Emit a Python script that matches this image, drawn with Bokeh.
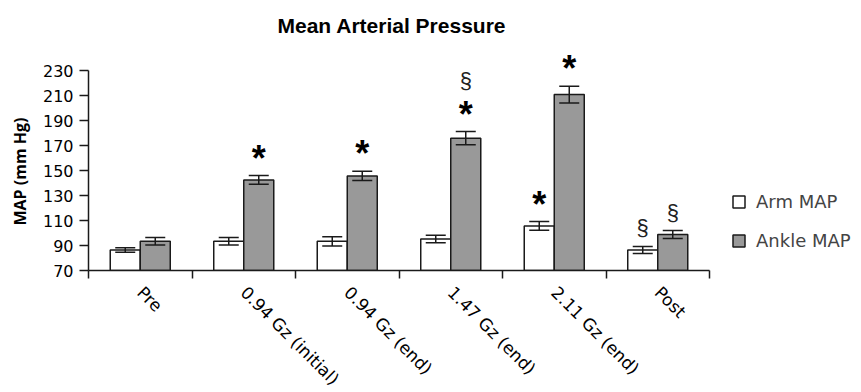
import math
import numpy as np
from bokeh.plotting import figure
from bokeh.models import (ColumnDataSource, Range1d, FixedTicker, Whisker, TeeHead,
                          Legend, LegendItem, Title)
from bokeh.core.properties import value
from bokeh.embed import file_html
from bokeh.resources import INLINE

# ---- data ----
categories = ["Pre", "0.94 Gz (initial)", "0.94 Gz (end)", "1.47 Gz (end)", "2.11 Gz (end)", "Post"]
arm_map = [86.5, 93.4, 93.4, 95.3, 105.7, 86.5]
arm_err = [1.8, 3.0, 3.7, 3.0, 3.5, 2.8]
ankle_map = [93.4, 142.5, 145.7, 175.9, 210.8, 98.8]
ankle_err = [3.0, 3.5, 3.7, 5.3, 6.7, 3.2]
arm_star = [False, False, False, False, True, False]
arm_sect = [False, False, False, False, False, True]
ankle_star = [False, True, True, True, True, False]
ankle_sect = [False, False, False, True, False, True]
y_ticks = [70, 90, 110, 130, 150, 170, 190, 210, 230]

n = len(categories)
centers = np.arange(n) + 0.5
off = 0.145
bw = 0.29

arm_src = ColumnDataSource(dict(x=centers - off, top=arm_map,
                                upper=[v + e for v, e in zip(arm_map, arm_err)],
                                lower=[v - e for v, e in zip(arm_map, arm_err)]))
ank_src = ColumnDataSource(dict(x=centers + off, top=ankle_map,
                                upper=[v + e for v, e in zip(ankle_map, ankle_err)],
                                lower=[v - e for v, e in zip(ankle_map, ankle_err)]))

frame_h = 229
y_top = 70 + frame_h * 160 / 200   # headroom above the 230 tick for markers

p = figure(frame_width=621, frame_height=frame_h, x_range=Range1d(0, n), y_range=Range1d(70, y_top),
           output_backend="svg", toolbar_location=None,
           min_border_left=88, min_border_right=145, min_border_top=41, min_border_bottom=100,
           title="Mean Arterial Pressure")
p.outline_line_color = None
p.xgrid.visible = False
p.ygrid.visible = False
p.background_fill_color = "white"

p.title.text_font = "Liberation Sans"
p.title.text_font_size = "21px"
p.title.text_font_style = "bold"
p.title.text_color = "black"
p.title.align = "left"
p.title.offset = 189

ar = p.vbar(x="x", top="top", bottom=70, width=bw, source=arm_src,
            fill_color="white", line_color="#1a1a1a", line_width=1.5)
an = p.vbar(x="x", top="top", bottom=70, width=bw, source=ank_src,
            fill_color="#999999", line_color="#1a1a1a", line_width=1.5)

for src in (arm_src, ank_src):
    w = Whisker(base="x", upper="upper", lower="lower", source=src,
                line_color="#1a1a1a", line_width=1.5, level="overlay",
                upper_head=TeeHead(size=20, line_color="#1a1a1a", line_width=1.5),
                lower_head=TeeHead(size=20, line_color="#1a1a1a", line_width=1.5))
    p.add_layout(w)

# significance markers
sx, sy, st, so = [], [], [], []
gx, gy, gt, go = [], [], [], []
for i in range(n):
    for xs, vals, errs, stars, sects in ((centers[i] - off, arm_map, arm_err, arm_star, arm_sect),
                                         (centers[i] + off, ankle_map, ankle_err, ankle_star, ankle_sect)):
        top = vals[i] + errs[i]
        if stars[i]:
            sx.append(xs); sy.append(top); st.append("*"); so.append(3)
        if sects[i]:
            gx.append(xs); gy.append(top); gt.append("§")
            go.append(-39 if stars[i] else -6)

p.text(x=sx, y=sy, text=st, y_offset=so, text_align="center", text_baseline="bottom",
       text_font=value("Liberation Sans"), text_font_style="bold", text_font_size="36px",
       text_color="black")
p.text(x=gx, y=gy, text=gt, y_offset=go, text_align="center", text_baseline="bottom",
       text_font=value("Liberation Sans"), text_font_size="22px", text_color="#222222")

# x axis
xa = p.xaxis[0]
xa.ticker = FixedTicker(ticks=list(centers), minor_ticks=list(range(n + 1)))
xa.major_label_overrides = {float(c): cat for c, cat in zip(centers, categories)}
xa.major_tick_out = 0
xa.major_tick_in = 0
xa.minor_tick_out = 8
xa.minor_tick_in = 0
xa.minor_tick_line_color = "#1a1a1a"
xa.minor_tick_line_width = 1.5
xa.axis_line_color = "#1a1a1a"
xa.axis_line_width = 1.5
xa.major_label_orientation = -math.pi / 4
xa.major_label_text_font = "DejaVu Sans"
xa.major_label_text_font_size = "17px"
xa.major_label_text_color = "black"
xa.major_label_standoff = 11

# y axis
ya = p.yaxis[0]
ya.ticker = FixedTicker(ticks=y_ticks)
ya.bounds = (70, 230)
ya.minor_tick_line_color = None
ya.major_tick_out = 9
ya.major_tick_in = 0
ya.major_tick_line_color = "#1a1a1a"
ya.major_tick_line_width = 1.5
ya.axis_line_color = "#1a1a1a"
ya.axis_line_width = 1.5
ya.major_label_text_font = "DejaVu Sans"
ya.major_label_text_font_size = "16px"
ya.major_label_text_color = "black"
ya.major_label_standoff = 6

ylab = Title(text="MAP (mm Hg)", align="left", offset=45, vertical_align="top",
             text_font="Open Sans", text_font_style="bold", text_font_size="16px",
             text_color="black", standoff=14)
p.add_layout(ylab, "left")

legend = Legend(items=[LegendItem(label="Arm MAP", renderers=[ar]),
                       LegendItem(label="Ankle MAP", renderers=[an])],
                location=(22, 19), orientation="vertical",
                border_line_color=None, background_fill_alpha=0,
                label_text_font="DejaVu Sans", label_text_font_size="18px",
                glyph_width=15, glyph_height=15, spacing=18, padding=0, margin=0,
                label_standoff=10)
p.add_layout(legend, "right")

open("out.html", "w").write(file_html(p, INLINE))
